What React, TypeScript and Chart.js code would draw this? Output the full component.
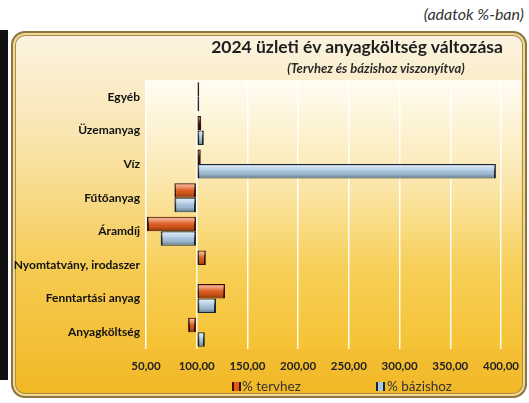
import React, { useEffect, useRef } from 'react';
import { Chart, registerables } from 'chart.js';

Chart.register(...registerables);

const categories = [
  'Egyéb',
  'Üzemanyag',
  'Víz',
  'Fűtőanyag',
  'Áramdíj',
  'Nyomtatvány, irodaszer',
  'Fenntartási anyag',
  'Anyagköltség',
];
const tervhez = [102.5, 104.5, 104, 78, 51, 109, 128, 91.5];
const bazishoz = [102.5, 107, 395, 78, 64.5, 99.5, 119, 108];
const seriesNames = ['% tervhez', '% bázishoz'];
const baseValue = 100;
const xMin = 50;
const xMax = 400;
const xStep = 50;
const titleText = '2024 üzleti év anyagköltség változása';
const subtitleText = '(Tervhez és bázishoz viszonyítva)';
const noteText = '(adatok %-ban)';

const FONT = 'Lato, "Open Sans", sans-serif';

const plotBg = {
  id: 'plotBg',
  beforeDraw(chart: any) {
    const { ctx, chartArea } = chart;
    if (!chartArea) return;
    const g = ctx.createLinearGradient(0, chartArea.top, 0, chartArea.bottom);
    g.addColorStop(0, '#fffcf3');
    g.addColorStop(0.35, '#fbe9b4');
    g.addColorStop(0.7, '#f7cf58');
    g.addColorStop(1, '#f5c233');
    ctx.save();
    ctx.fillStyle = g;
    ctx.fillRect(chartArea.left, chartArea.top, chartArea.right - chartArea.left + 20, chartArea.bottom - chartArea.top);
    ctx.restore();
  },
};

const bevel = {
  id: 'bevel',
  afterDatasetsDraw(chart: any) {
    const ctx = chart.ctx;
    chart.data.datasets.forEach((_ds: any, di: number) => {
      const meta = chart.getDatasetMeta(di);
      meta.data.forEach((el: any) => {
        const p = el.getProps(['x', 'y', 'base', 'height'], true);
        const left = Math.min(p.x, p.base);
        const right = Math.max(p.x, p.base);
        const top = p.y - p.height / 2;
        const h = p.height;
        if (right - left < 0.5) return;
        const g = ctx.createLinearGradient(0, top, 0, top + h);
        g.addColorStop(0, 'rgba(0,0,0,0.15)');
        g.addColorStop(0.12, 'rgba(255,255,255,0.55)');
        g.addColorStop(0.4, 'rgba(255,255,255,0.15)');
        g.addColorStop(0.65, 'rgba(0,0,0,0.05)');
        g.addColorStop(1, 'rgba(0,0,0,0.4)');
        ctx.save();
        ctx.fillStyle = g;
        ctx.fillRect(left + 1, top + 1, right - left - 2, h - 2);
        ctx.restore();
      });
    });
  },
};

function ChartCanvas() {
  const ref = useRef<HTMLCanvasElement | null>(null);
  useEffect(() => {
    if (!ref.current) return;
    const chart = new Chart(ref.current, {
      type: 'bar',
      data: {
        labels: categories,
        datasets: [
          {
            label: seriesNames[0],
            data: tervhez,
            base: baseValue,
            backgroundColor: '#e25a1c',
            borderColor: '#3a1206',
            borderWidth: { left: 2, right: 2, top: 1, bottom: 1 },
            borderSkipped: false,
            categoryPercentage: 0.86,
            barPercentage: 1.0,
          } as any,
          {
            label: seriesNames[1],
            data: bazishoz,
            base: baseValue,
            backgroundColor: '#a9c8e2',
            borderColor: '#1a2638',
            borderWidth: { left: 2, right: 2, top: 1, bottom: 1 },
            borderSkipped: false,
            categoryPercentage: 0.86,
            barPercentage: 1.0,
          } as any,
        ],
      },
      options: {
        indexAxis: 'y',
        responsive: false,
        animation: false,
        devicePixelRatio: 1,
        layout: { padding: { left: 0, top: 80, right: 26, bottom: 0 } },
        plugins: {
          legend: { display: false },
          title: { display: false },
          tooltip: { enabled: false },
        },
        scales: {
          x: {
            type: 'linear',
            min: xMin,
            max: xMax,
            ticks: {
              stepSize: xStep,
              color: '#222',
              padding: 10,
              font: { family: FONT, weight: 'bold', size: 11.5 },
              callback: (v: any) => Number(v).toFixed(2).replace('.', ','),
            },
            grid: { color: 'rgba(255,255,255,0.95)', lineWidth: 1.5, drawTicks: false },
            border: { display: false },
            afterFit: (scale: any) => {
              scale.height = 54;
            },
          },
          y: {
            type: 'category',
            grid: { display: false, drawTicks: false },
            border: { display: false },
            ticks: {
              color: '#111',
              padding: 6,
              font: { family: FONT, weight: 'bold', size: 12 },
            },
            afterFit: (scale: any) => {
              scale.width = 146;
            },
          },
        },
      } as any,
      plugins: [plotBg, bevel],
    });
    return () => chart.destroy();
  }, []);
  return (
    <canvas
      ref={ref}
      width={529}
      height={403}
      style={{ position: 'absolute', left: 0, top: 0, width: 529, height: 403 }}
    />
  );
}

export default function App() {
  const legendItem = (name: string, fill: string, edge: string, boxLeft: number, textLeft: number) => (
    <>
      <div
        style={{
          position: 'absolute',
          left: boxLeft,
          top: 382,
          width: 9,
          height: 9,
          background: fill,
          borderLeft: `2px solid ${edge}`,
          borderRight: `2px solid ${edge}`,
          boxSizing: 'border-box',
        }}
      />
      <div
        style={{
          position: 'absolute',
          left: textLeft,
          top: 377,
          fontFamily: FONT,
          fontSize: 13.5,
          color: '#333',
          whiteSpace: 'nowrap',
          lineHeight: '18px',
        }}
      >
        {name}
      </div>
    </>
  );

  return (
    <div style={{ position: 'absolute', left: 0, top: 0, width: 529, height: 403, background: '#fff', overflow: 'hidden' }}>
      <div
        style={{
          position: 'absolute',
          right: 5,
          top: 5,
          fontFamily: FONT,
          fontStyle: 'italic',
          fontSize: 16,
          color: '#333',
          whiteSpace: 'nowrap',
          lineHeight: '18px',
        }}
      >
        {noteText}
      </div>
      <div
        style={{
          position: 'absolute',
          left: 11,
          top: 31,
          width: 516,
          height: 367,
          borderRadius: 14,
          border: '2px solid #8c7646',
          boxShadow: 'inset 0 0 0 2px #f3d98c, inset 0 0 0 3px #a88c50',
          boxSizing: 'border-box',
          background: 'linear-gradient(to bottom, #fbf4e2 0%, #f9e4ad 30%, #f6cb52 65%, #f2b825 100%)',
        }}
      />
      <div style={{ position: 'absolute', left: 0, top: 30, width: 8, height: 350, background: '#111' }} />
      <ChartCanvas />
      <div
        style={{
          position: 'absolute',
          left: 357,
          top: 36,
          transform: 'translateX(-50%)',
          fontFamily: FONT,
          fontWeight: 'bold',
          fontSize: 17.5,
          color: '#1e1e1e',
          whiteSpace: 'nowrap',
          lineHeight: '21px',
        }}
      >
        {titleText}
      </div>
      <div
        style={{
          position: 'absolute',
          left: 376,
          top: 60,
          transform: 'translateX(-50%)',
          fontFamily: FONT,
          fontWeight: 'bold',
          fontStyle: 'italic',
          fontSize: 13,
          color: '#2a2a2a',
          whiteSpace: 'nowrap',
          lineHeight: '16px',
        }}
      >
        {subtitleText}
      </div>
      {legendItem(seriesNames[0], '#e25a1c', '#3a1206', 232, 242)}
      {legendItem(seriesNames[1], '#a9c8e2', '#1a2638', 376, 387)}
    </div>
  );
}
